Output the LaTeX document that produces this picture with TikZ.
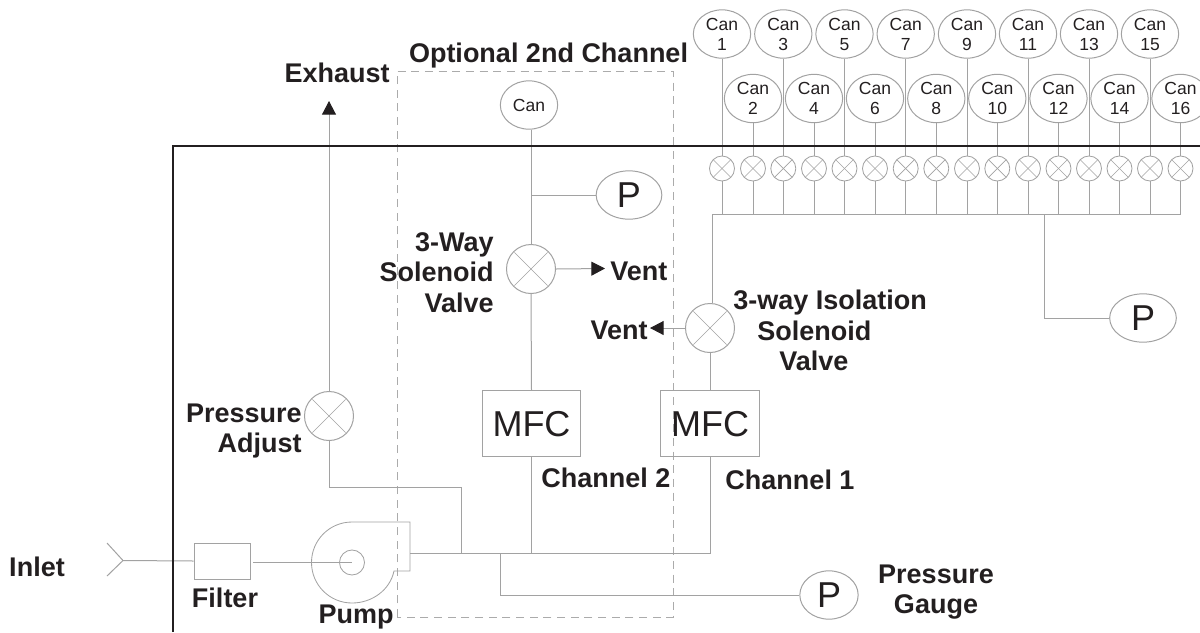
\documentclass[tikz,border=0pt]{standalone}
\usepackage{fontspec}
\setmainfont{Liberation Sans}
\usetikzlibrary{arrows.meta,shapes.geometric,calc}
\definecolor{ln}{HTML}{A2A2A2}
\definecolor{dsh}{HTML}{ABABAB}
\definecolor{ink}{HTML}{231F20}
\tikzset{
  pipe/.style={draw=ln,line width=0.6pt},
  wall/.style={draw=ink,line width=1.3pt},
  dashbox/.style={draw=dsh,line width=0.6pt,dash pattern=on 4.8pt off 3.4pt},
  lbl/.style={text=ink,font=\fontsize{16.2}{18.3}\selectfont\bfseries,align=center,inner sep=0pt},
  can/.style={ellipse,draw=ln,line width=0.6pt,minimum width=34.4pt,minimum height=29pt,inner sep=0pt,align=center,text=ink,font=\fontsize{10.5}{12}\selectfont,fill=white},
  gauge/.style={ellipse,draw=ln,line width=0.6pt,minimum width=#1,minimum height=29pt,inner sep=0pt,text=ink,font=\fontsize{21.6}{24}\selectfont},
  mfc/.style={rectangle,draw=ln,line width=0.6pt,minimum width=59pt,minimum height=39.6pt,inner sep=0pt,text=ink,font=\fontsize{21.6}{24}\selectfont},
  bigvalve/.style={circle,draw=ln,line width=0.6pt,minimum size=29.4pt,inner sep=0pt},
  smallvalve/.style={circle,draw=ln,line width=0.5pt,minimum size=15pt,inner sep=0pt},
  arr/.style={pipe,-{Triangle[length=8.2pt,width=8.4pt,color=ink,fill=ink]}}
}
\newcommand{\xmark}[1]{%
  \draw[draw=ln,line width=0.4pt] ($(#1.north east)!0.03!(#1.south west)$) -- ($(#1.north east)!0.97!(#1.south west)$);
  \draw[draw=ln,line width=0.4pt] ($(#1.north west)!0.03!(#1.south east)$) -- ($(#1.north west)!0.97!(#1.south east)$);}
\begin{document}
\begin{tikzpicture}[x=0.6pt,y=-0.6pt]
\useasboundingbox (0,0) rectangle (1200,632);
% enclosure corners
\coordinate (wa) at (173,632);
\coordinate (wb) at (173,146);
\coordinate (wc) at (1200,146);
% dashed box
\draw[dashbox] (397,617) -- (397,71) -- (673,71) -- (673,617) -- cycle;
% cans and valves
\foreach \n/\x in {1/722,3/783.3,5/844.5,7/905.7,9/967,11/1028,13/1089,15/1150}{
  \node[can] (can\n) at (\x,34) {Can\\\n};
  \node[smallvalve] (v\n) at (\x,168.5) {};
  \coordinate (j\n) at (\x,214);
  \draw[pipe] (can\n) -- (v\n);
  \draw[pipe] (v\n) -- (j\n);
}
\foreach \n/\x in {2/753,4/814,6/875,8/936.3,10/997.3,12/1058.5,14/1119.5,16/1180.5}{
  \node[can] (can\n) at (\x,98.5) {Can\\\n};
  \node[smallvalve] (v\n) at (\x,168.5) {};
  \coordinate (j\n) at (\x,214);
  \draw[pipe] (can\n) -- (v\n);
  \draw[pipe] (v\n) -- (j\n);
}
\foreach \n in {1,...,16}{\xmark{v\n}}
% other elements
\node[can] (can0) at (529,105) {Can};
\node[gauge=39.4pt] (p1) at (629,195) {P};
\node[gauge=40pt] (p2) at (1143,318) {P};
\node[gauge=35pt] (p3) at (829,595) {P};
\node[bigvalve] (sv2) at (531,269) {};
\node[bigvalve] (sv1) at (710,328) {};
\node[bigvalve] (pv) at (329,416) {};
\xmark{sv2}\xmark{sv1}\xmark{pv}
\node[mfc] (mfc2) at (531.5,423.7) {MFC};
\node[mfc] (mfc1) at (710,423.7) {MFC};
\node[rectangle,draw=ln,line width=0.6pt,minimum width=34pt,minimum height=21.6pt,inner sep=0pt] (filter) at (222.5,561) {};
% pump
\node[circle,draw=ln,line width=0.5pt,minimum size=15pt,inner sep=0pt] (hub) at (352,562.5) {};
\draw[pipe,line width=0.5pt] (410,522) -- (352,522)
  .. controls (329.6,522) and (311.5,540.1) .. (311.5,562.5)
  .. controls (311.5,584.9) and (329.6,603) .. (352,603)
  .. controls (372,603) and (390,590) .. (394,571) -- (410,571) -- cycle;
\coordinate (pumpout) at (410,553.5);
% inlet
\coordinate (ia) at (107,543);
\coordinate (ib) at (123,560.5);
\coordinate (ic) at (107,576);
\draw[pipe] (ia) -- (ib) -- (ic);
\draw[pipe] (ib) -- (filter.west);
\draw[pipe] ($(filter.east |- hub)+(2,0)$) -- (hub.center);
% main lines
\coordinate (j0) at (531.5,553.5);
\coordinate (jA) at (461,553.5);
\coordinate (jB) at (500,553.5);
\coordinate (jR) at (710,553.5);
\draw[pipe] (pumpout) -- (jA) -- (jB) -- (j0) -- (jR) -- (mfc1.south);
\draw[pipe] (mfc2.south) -- (j0);
\draw[pipe] (mfc2.north) -- (sv2.south);
\draw[pipe] (mfc1.north) -- (sv1.south);
\draw[pipe] (sv2.north) -- (sv2.north |- can0.south);
\coordinate (jP1) at (531,195);
\draw[pipe] (jP1) -- (p1.west);
% pressure adjust
\draw[pipe] (jA) -- (461,487) -- (329,487) -- (pv.south);
\coordinate (exh) at (329,101);
\draw[arr] (pv.north) -- (exh);
% gauge
\draw[pipe] (jB) -- (500,595) -- (p3.west);
% vents
\coordinate (vent2) at (605,268.5);
\coordinate (vent1) at (650,328);
\draw[arr] (sv2.east) -- (vent2);
\draw[arr] (sv1.west) -- (vent1);
% manifold
\coordinate (m0) at (712,214);
\draw[pipe] (sv1.north -| m0) -- (m0) -- (j16);
\coordinate (m1) at (1044,214);
\draw[pipe] (m1) -- (1044,318) -- (p2.west);
% walls
\draw[wall] (wa) -- (wb) -- (wc);
% labels
\node[lbl] (tInlet) at (37,567) {Inlet};
\node[lbl] (tFilter) at (225,598) {Filter};
\node[lbl] (tPump) at (356,617) {Pump};
\node[lbl,anchor=east] (tExh) at (390,73) {Exhaust};
\node[lbl] (tOpt) at (548.5,56) {Optional 2nd Channel};
\node[lbl,align=right,anchor=east] (tSol) at (494,272.5) {3-Way\\Solenoid\\Valve};
\node[lbl,anchor=west] (tV2) at (610,271) {Vent};
\node[lbl,anchor=east] (tV1) at (648,330) {Vent};
\node[lbl,align=left,anchor=west] (tIso) at (733,330.5) {3-way Isolation\\\hspace*{14.4pt}Solenoid\\\hspace*{27.6pt}Valve};
\node[lbl,align=right,anchor=east] (tPa) at (302,431) {Pressure\\Adjust};
\node[lbl] (tC2) at (606,478) {Channel 2};
\node[lbl] (tC1) at (790,480) {Channel 1};
\node[lbl] (tPg) at (936,592) {Pressure\\Gauge};
\end{tikzpicture}
\end{document}
